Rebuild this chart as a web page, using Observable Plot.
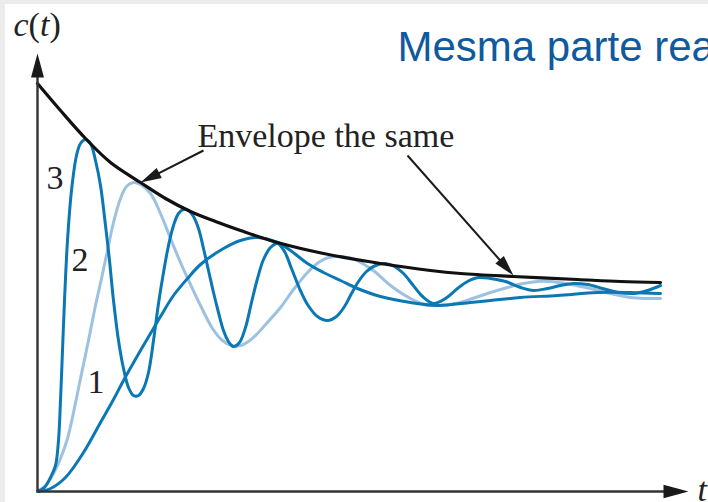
<!DOCTYPE html>
<html><head><meta charset="utf-8">
<script src="https://cdn.jsdelivr.net/npm/d3@7"></script>
<script src="https://cdn.jsdelivr.net/npm/@observablehq/plot@0.6"></script>
<style>
html,body{margin:0;padding:0;background:#fff;width:708px;height:502px;overflow:hidden}
#chart{position:absolute;left:0;top:0}
.frame{position:absolute;background:#ececec}
</style></head><body>
<div id="chart"></div>
<div class="frame" style="left:0;top:0;width:708px;height:4px"></div>
<div class="frame" style="left:0;top:0;width:5px;height:502px"></div>
<script>
// t: time in arbitrary units (no ticks on the t axis); c: response, final value ~1
const envT = [0,23,48,73,103,128,153,178,203,240,286,343,393,423,476,540,583,623];
const envC = [2.04,1.905,1.765,1.645,1.545,1.465,1.40,1.35,1.305,1.245,1.19,1.14,1.105,1.09,1.075,1.06,1.05,1.045];

const c1T = [0,13,28,46,63,76,86,103,113,123,136,150,163,186,203,220,240,253,270,286,303,320,343,373,400,433,453,483,520,560,593,623];
const c1C = [0,0.015,0.07,0.195,0.345,0.46,0.555,0.705,0.79,0.875,0.98,1.065,1.135,1.215,1.255,1.27,1.245,1.205,1.14,1.095,1.055,1.015,0.975,0.945,0.93,0.945,0.955,0.97,0.98,0.995,0.995,0.99];

const c2T = [0,8,16,23,30,36,43,51,58,64,70,76,83,89,96,103,113,123,133,143,153,163,175,185,194,203,211,219,229,243,256,270,281,291,303,315,325,337,353,373,388,400,418,435,453,470,486,500,513,528,553,573,593,608,623];
const c2C = [0,0.03,0.09,0.165,0.265,0.395,0.565,0.755,0.93,1.065,1.205,1.345,1.465,1.525,1.545,1.535,1.49,1.39,1.265,1.145,1.035,0.93,0.815,0.755,0.73,0.73,0.75,0.785,0.84,0.92,1.01,1.095,1.145,1.17,1.175,1.165,1.14,1.10,1.03,0.965,0.935,0.93,0.94,0.965,0.995,1.02,1.04,1.05,1.05,1.04,1.015,0.99,0.97,0.965,0.965];

const c3T = [0,7,13,18,21,23,25,27,30,34,39,43,48,53,58,63,68,72,76,81,86,91,96,101,106,111,116,121,126,131,136,141,146,151,156,161,166,171,176,181,186,191,196,202,208,214,220,226,233,240,247,254,262,270,280,290,299,307,314,321,329,338,348,357,366,375,385,396,408,420,430,441,453,468,483,496,510,523,536,550,565,581,596,610,623];
const c3C = [0,0.02,0.07,0.13,0.255,0.455,0.705,0.955,1.255,1.505,1.68,1.74,1.76,1.74,1.655,1.53,1.33,1.155,0.955,0.755,0.615,0.52,0.48,0.48,0.515,0.595,0.755,0.94,1.095,1.23,1.33,1.39,1.41,1.405,1.375,1.315,1.215,1.105,0.995,0.895,0.805,0.75,0.725,0.745,0.82,0.945,1.065,1.16,1.22,1.24,1.20,1.115,1.015,0.935,0.875,0.855,0.875,0.925,0.99,1.05,1.10,1.13,1.14,1.125,1.09,1.035,0.975,0.94,0.965,1.015,1.05,1.07,1.065,1.05,1.02,1.005,1.015,1.03,1.04,1.035,1.015,0.995,0.99,1.005,1.03];

const curveLabels = ["3","2","1"];
const curveLabelT = [9,34,50];
const curveLabelC = [1.515,1.105,0.495];

const annotationText = "Envelope the same";
const annotationT = 160, annotationC = 1.725;
const arrowStartT = [166,370], arrowStartC = [1.705,1.68];
const arrowTipT = [103,476], arrowTipC = [1.545,1.08];

const axisTipT = [651,0], axisTipC = [0,2.19];
const axisLabels = ["t","c(t)"];
const axisLabelT = [660,-24], axisLabelC = [-0.045,2.28];

const titleText = "Mesma parte real";
const titleT = 360, titleC = 2.155;

// ---- layout
const W = 708, H = 502;
const mL = 37, mR = 48, mT = 51, mB = 11;
const xDom = [0,623], yDom = [0,2.2];
const kx = (W - mL - mR) / (xDom[1] - xDom[0]);
const ky = (H - mT - mB) / (yDom[1] - yDom[0]);

const rows = (T, C) => T.map((t, i) => ({t, c: C[i]}));
const env = rows(envT, envC), s1 = rows(c1T, c1C), s2 = rows(c2T, c2C), s3 = rows(c3T, c3C);

const headSymbol = {draw(ctx, size) {
  const L = Math.sqrt(size / Math.PI), w = L * 0.27;
  ctx.moveTo(0, 0); ctx.lineTo(w, L); ctx.lineTo(-w, L); ctx.closePath();
}};

// arrows: shafts + heads
function arrowParts(t1, c1, t2, c2, len) {
  const dx = (t2 - t1) * kx, dy = (c2 - c1) * ky;
  const d = Math.hypot(dx, dy);
  const angle = Math.atan2(dx, dy) * 180 / Math.PI;
  const back = len * 0.7;
  return {
    shaft: {t1, c1, t2: t2 - dx / d * back / kx, c2: c2 - dy / d * back / ky},
    head: {t: t2, c: c2, angle, len}
  };
}
const axisArrows = [arrowParts(0, 0, axisTipT[0], axisTipC[0], 25), arrowParts(0, 0, axisTipT[1], axisTipC[1], 24)];
const annArrows = arrowStartT.map((t, i) => arrowParts(t, arrowStartC[i], arrowTipT[i], arrowTipC[i], 21));

const serif = "'Liberation Serif', 'Times New Roman', serif";
const dark = "#0a78b4", light = "#9dc1e0";
const lineOpts = {x: "t", y: "c", curve: "catmull-rom", strokeWidth: 3, strokeLinecap: "round", strokeLinejoin: "round"};

const plot = Plot.plot({
  width: W, height: H,
  marginLeft: mL, marginRight: mR, marginTop: mT, marginBottom: mB,
  x: {domain: xDom, axis: null},
  y: {domain: yDom, axis: null},
  r: {type: "identity"},
  style: {background: "transparent", overflow: "visible"},
  marks: [
    Plot.line(s2, {...lineOpts, stroke: light}),
    Plot.line(s1, {...lineOpts, stroke: dark}),
    Plot.line(s3, {...lineOpts, stroke: dark}),
    Plot.line(env, {...lineOpts, stroke: "#111", strokeWidth: 3.2}),
    Plot.link(axisArrows.map(a => a.shaft), {x1: "t1", y1: "c1", x2: "t2", y2: "c2", stroke: "#333", strokeWidth: 2.4}),
    Plot.dot(axisArrows.map(a => a.head), {x: "t", y: "c", r: "len", rotate: "angle", symbol: headSymbol, fill: "#1a1a1a", stroke: "none"}),
    Plot.link(annArrows.map(a => a.shaft), {x1: "t1", y1: "c1", x2: "t2", y2: "c2", stroke: "#1a1a1a", strokeWidth: 2}),
    Plot.dot(annArrows.map(a => a.head), {x: "t", y: "c", r: "len", rotate: "angle", symbol: headSymbol, fill: "#1a1a1a", stroke: "none"}),
    Plot.text(curveLabels, {x: (d, i) => curveLabelT[i], y: (d, i) => curveLabelC[i], text: d => d, textAnchor: "start", lineAnchor: "bottom", fontFamily: serif, fontSize: 34, fill: "#222"}),
    Plot.text([annotationText], {x: () => annotationT, y: () => annotationC, text: d => d, textAnchor: "start", lineAnchor: "bottom", fontFamily: serif, fontSize: 34, fill: "#222"}),
    Plot.text(axisLabels, {x: (d, i) => axisLabelT[i], y: (d, i) => axisLabelC[i], text: d => d, textAnchor: "start", lineAnchor: "bottom", fontFamily: serif, fontSize: 34, fontStyle: "italic", fill: "#222"}),
    Plot.text([titleText], {x: () => titleT, y: () => titleC, text: d => d, textAnchor: "start", lineAnchor: "bottom", fontFamily: "'Liberation Sans', Arial, sans-serif", fontSize: 42, fill: "#0f5a9e"})
  ]
});
document.getElementById("chart").append(plot);

// c(t): italic letters, upright parentheses
d3.select(plot).selectAll("text").filter(function() { return this.textContent === "c(t)"; }).each(function() {
  const t = d3.select(this).text(null);
  [["c", "italic"], ["(", "normal"], ["t", "italic"], [")", "normal"]].forEach(([s, st]) => t.append("tspan").attr("font-style", st).text(s));
});
</script>
</body></html>
